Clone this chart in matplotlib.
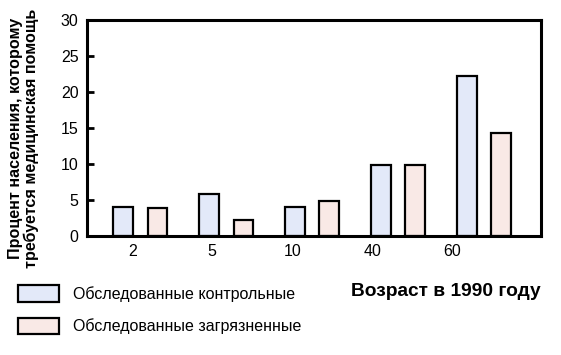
import numpy as np
import matplotlib
matplotlib.use("Agg")
import matplotlib.pyplot as plt

plt.rcParams['font.family'] = ['Liberation Sans', 'DejaVu Sans']

# данные
ages = ["2", "5", "10", "40", "60"]
control = [4.0, 5.8, 4.0, 9.8, 22.2]
polluted = [3.9, 2.3, 4.9, 9.8, 14.3]
labels = ["Обследованные контрольные", "Обследованные загрязненные"]
colors = ["#E3E9F9", "#F9E9E6"]

fig = plt.figure(figsize=(5.61, 3.55), dpi=100)
ax = fig.add_axes([0.155, 0.335, 0.809, 0.609])

x = np.arange(len(ages))
w = 0.23
b1 = ax.bar(x - 0.2, control, w, color=colors[0], edgecolor="black", linewidth=1.6)
b2 = ax.bar(x + 0.2, polluted, w, color=colors[1], edgecolor="black", linewidth=1.6)

ax.set_xlim(-0.62, 4.66)
ax.set_ylim(0, 30)
ax.set_yticks([0, 5, 10, 15, 20, 25, 30])
# подписи оси X смещены влево, как в оригинале
ax.set_xticks(-0.093 + 0.93 * x)
ax.set_xticklabels(ages)
ax.tick_params(axis="x", length=0, labelsize=11.5, pad=6)
ax.tick_params(axis="y", direction="in", length=5, width=2, labelsize=11.5, pad=6)
for s in ax.spines.values():
    s.set_linewidth(2.2)

ax.set_ylabel("Процент населения, которому\nтребуется медицинская помощь",
              fontsize=11.6, fontweight="bold", linespacing=1.05)
ax.yaxis.set_label_coords(-0.105, 0.45)
fig.text(0.963, 0.178, "Возраст в 1990 году", fontsize=13.8, fontweight="bold",
         ha="right", va="center")

fig.legend([b1, b2], labels, loc="lower left", bbox_to_anchor=(0.032, 0.058),
           frameon=False, fontsize=11.5, handlelength=2.55, handleheight=1.25,
           handletextpad=0.9, labelspacing=0.95, borderpad=0, borderaxespad=0)

fig.savefig("out.png", dpi=100)
